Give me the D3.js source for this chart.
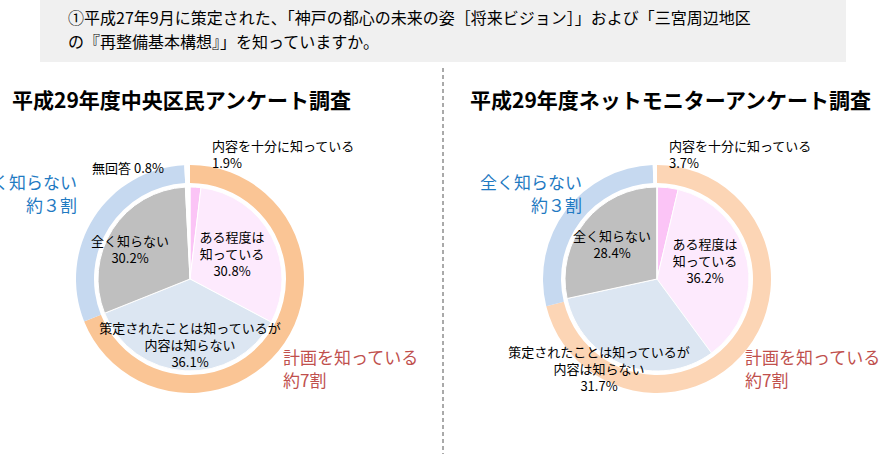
<!DOCTYPE html><html><head><meta charset="utf-8"><script src="https://cdn.jsdelivr.net/npm/d3@7"></script>
<style>body{margin:0;background:#fff}text{font-family:"Noto Sans CJK JP",sans-serif}</style></head><body><svg width="886" height="454"></svg>
<script>
const categories=["内容を十分に知っている","ある程度は知っている","策定されたことは知っているが内容は知らない","全く知らない","無回答"];
const leftValues=[1.9,30.8,36.1,30.2,0.8];
const rightValues=[3.7,36.2,31.7,28.4,0];
const sliceColors=["#fbc4f6","#fdeafd","#dce6f2","#bfbfbf","#ffffff"];
const svg=d3.select("svg");
svg.append("rect").attr("x",40).attr("y",0).attr("width",806).attr("height",62).attr("fill","#f0f0f0");
svg.append("text").attr("x",68).attr("y",24).attr("font-size",16).text("①平成27年9月に策定された、「神戸の都心の未来の姿［将来ビジョン］」および「三宮周辺地区");
svg.append("text").attr("x",68).attr("y",48).attr("font-size",16).text("の『再整備基本構想』」を知っていますか。");
svg.append("line").attr("x1",443).attr("x2",443).attr("y1",68).attr("y2",454).attr("stroke","#555").attr("stroke-dasharray","4,3");
function chart(cx,cy,vals,title,tx,ringO,ringB,labels){
 svg.append("text").attr("x",tx).attr("y",108).attr("font-size",21).attr("font-weight","bold").text(title);
 const g=svg.append("g").attr("transform",`translate(${cx},${cy})`);
 const known=vals[0]+vals[1]+vals[2];
 const ring=[{v:known,c:ringO},{v:vals[3],c:ringB},{v:vals[4]||0.6,c:"#fff"}];
 const rp=d3.pie().sort(null).value(d=>d.v);
 g.selectAll(".r").data(rp(ring)).join("path").attr("d",d3.arc().innerRadius(96).outerRadius(114)).attr("fill",d=>d.data.c);
 const p=d3.pie().sort(null)(vals);
 const arc=d3.arc().innerRadius(0).outerRadius(92);
 g.selectAll(".s").data(p).join("path").attr("d",arc).attr("fill",(d,i)=>sliceColors[i]).attr("stroke","#fff").attr("stroke-width",1);
 labels.forEach(l=>{const fs=l.c?17:13, lh=l.c?23:17;
  const t=g.append("text").attr("text-anchor",l.a||"middle").attr("font-size",fs).attr("fill",l.c||"#000");
  l.t.forEach((s,k)=>t.append("tspan").attr("x",l.x).attr("y",l.y+k*lh).text(s));});
}
chart(190,279,leftValues,"平成29年度中央区民アンケート調査",12,"#fac595","#c6d9f0",[
 {x:22,y:-128,t:["内容を十分に知っている","1.9%"],a:"start"},
 {x:-98,y:-106,t:["無回答 0.8%"],a:"start"},
 {x:42,y:-37,t:["ある程度は","知っている","30.8%"]},
 {x:-60,y:-33,t:["全く知らない","30.2%"]},
 {x:0,y:54,t:["策定されたことは知っているが","内容は知らない","36.1%"]},
 {x:-113,y:-90,t:["全く知らない","約３割"],a:"end",c:"#1f7ac2"},
 {x:93,y:85,t:["計画を知っている","約7割"],a:"start",c:"#c0504d"}]);
chart(657,279,rightValues,"平成29年度ネットモニターアンケート調査",470,"#fcd5b5","#c6d9f0",[
 {x:12,y:-128,t:["内容を十分に知っている","3.7%"],a:"start"},
 {x:48,y:-30,t:["ある程度は","知っている","36.2%"]},
 {x:-45,y:-38,t:["全く知らない","28.4%"]},
 {x:-58,y:78,t:["策定されたことは知っているが","内容は知らない","31.7%"]},
 {x:-75,y:-90,t:["全く知らない","約３割"],a:"end",c:"#1f7ac2"},
 {x:88,y:85,t:["計画を知っている","約7割"],a:"start",c:"#c0504d"}]);
</script></body></html>
